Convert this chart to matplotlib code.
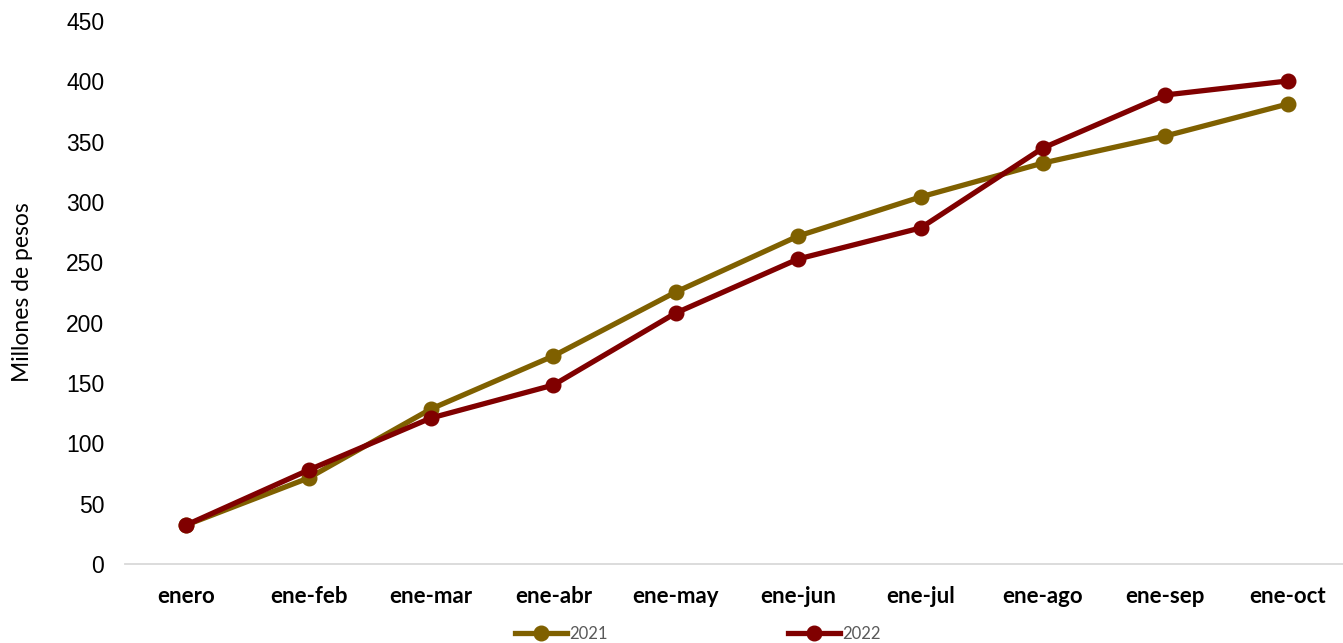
import matplotlib
matplotlib.use("Agg")
import matplotlib.pyplot as plt

categories = ["enero", "ene-feb", "ene-mar", "ene-abr", "ene-may", "ene-jun",
              "ene-jul", "ene-ago", "ene-sep", "ene-oct"]
s2021 = [32.3, 71.3, 128.5, 172.4, 225.4, 271.8, 304.2, 332.3, 354.7, 381.2]
s2022 = [32.3, 77.9, 121.0, 148.3, 208.0, 252.8, 278.5, 344.8, 388.7, 400.3]
yticks = [0, 50, 100, 150, 200, 250, 300, 350, 400, 450]

W, H = 1343, 643
fig = plt.figure(figsize=(W / 100, H / 100), dpi=100)
left, right = 125 / W, 1349 / W
bottom, top = (H - 564) / H, (H - 21) / H
ax = fig.add_axes([left, bottom, right - left, top - bottom])

x = list(range(len(categories)))
l1, = ax.plot(x, s2021, color="#7F6000", lw=3.8, marker="o", markersize=10.5, label="2021", zorder=3)
l2, = ax.plot(x, s2022, color="#800000", lw=3.8, marker="o", markersize=10.5, label="2022", zorder=4)

ax.set_xlim(-0.5, len(categories) - 0.5)
ax.set_ylim(0, 450)
ax.set_yticks(yticks)
ax.set_yticklabels([str(v) for v in yticks], fontfamily="Liberation Sans", fontsize=16.5)
ax.set_xticks(x)
ax.set_xticklabels(categories, fontfamily="Lato", fontweight="bold", fontsize=16)
ax.tick_params(axis="both", length=0)
ax.tick_params(axis="x", pad=16)
ax.tick_params(axis="y", pad=15)
for s in ["top", "right", "left"]:
    ax.spines[s].set_visible(False)
ax.spines["bottom"].set_color("#D9D9D9")
ax.spines["bottom"].set_linewidth(1.3)
ax.set_ylabel("Millones de pesos", fontfamily="Lato", fontsize=16.5)
ax.yaxis.set_label_coords(-92 / (W * (right - left)), 0.5)

leg = fig.legend(handles=[l1, l2], loc="center", bbox_to_anchor=(698 / W, 1 - 634 / H),
                 ncol=2, frameon=False, columnspacing=10.8, handlelength=3.1, handletextpad=0.15,
                 prop={"family": "Lato", "size": 12})
for t in leg.get_texts():
    t.set_color("#595959")

fig.savefig("out.png", dpi=100)
